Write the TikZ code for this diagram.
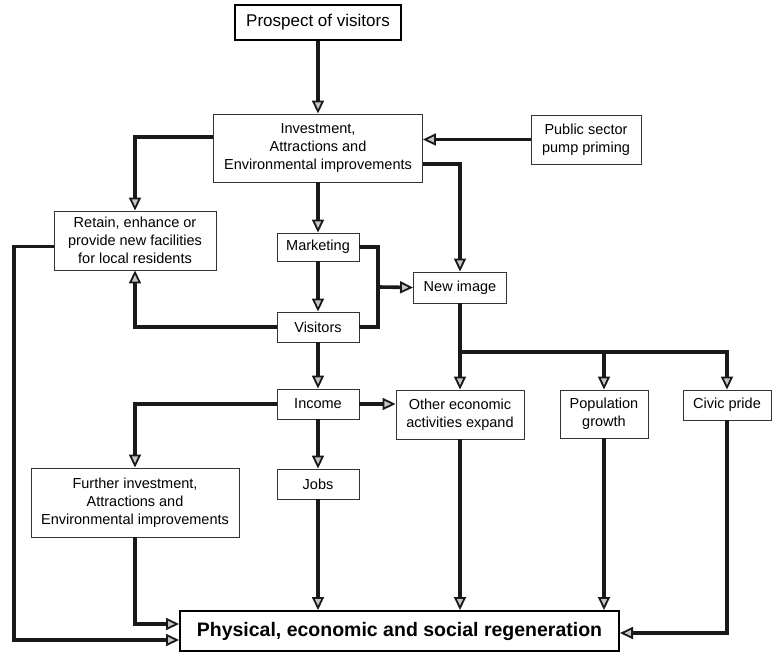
\documentclass[tikz,border=0pt]{standalone}
\usepackage{fontspec}
\setmainfont{Liberation Sans}
\usetikzlibrary{arrows.meta, positioning}

\begin{document}
\begin{tikzpicture}[
      x=1pt, y=-1pt,
      font=\fontsize{14.5}{18}\selectfont,
      >={Triangle[length=13pt, width=12pt, fill=gray!45, line width=1.8pt]},
      box/.style={
        rectangle,
        draw=black!80,
        line width=0.9pt,
        align=center,
        inner sep=0pt
      },
      keybox/.style={box, draw=black, line width=2pt},
      flow/.style={->, line width=3.6pt, black!90}
    ]
    \useasboundingbox (0,0) rectangle (778,652);
    % boxes
    \node[keybox, minimum width=166pt, minimum height=35pt,
      font=\fontsize{17}{20}\selectfont] (prospect) at (318,22.5) {Prospect of visitors};
    \node[box, minimum width=209pt, minimum height=68pt] (invest) at (318,148)
      {Investment,\\Attractions and\\Environmental improvements};
    \node[box, minimum width=110pt, minimum height=49pt] (public) at (586,139.5)
      {Public sector\\pump priming};
    \node[box, minimum width=162pt, minimum height=59pt] (retain) at (135,240.5)
      {Retain, enhance or\\provide new facilities\\for local residents};
    \node[box, minimum width=82pt, minimum height=28pt] (marketing) at (318,247) {Marketing};
    \node[box, minimum width=82pt, minimum height=30pt] (visitors) at (318,327) {Visitors};
    \node[box, minimum width=93pt, minimum height=31pt] (newimage) at (460,287.5) {New image};
    \node[box, minimum width=82pt, minimum height=30pt] (income) at (318,404) {Income};
    \node[box, minimum width=82pt, minimum height=30pt] (jobs) at (318,484) {Jobs};
    \node[box, minimum width=208pt, minimum height=69pt] (further) at (135,502.5)
      {Further investment,\\Attractions and\\Environmental improvements};
    \node[box, minimum width=128pt, minimum height=49pt] (other) at (460,414.5)
      {Other economic\\activities expand};
    \node[box, minimum width=88pt, minimum height=48pt] (population) at (604,414)
      {Population\\growth};
    \node[box, minimum width=88pt, minimum height=30pt] (civic) at (727,405) {Civic pride};
    \node[keybox, minimum width=439pt, minimum height=40pt,
      font=\fontsize{19.5}{22}\bfseries] (regen) at (399.5,631)
      {Physical, economic and social regeneration};
    \coordinate (split) at (378,287);
    \coordinate (fork) at (460,352);
    % connectors
    \draw[flow] (prospect) -- (invest);
    \draw[flow] (public.west) -- (public.west -| invest.east);
    \draw[flow] ([yshift=11pt]invest.west) -| (retain.north);
    \draw[flow] ([yshift=-16pt]invest.east) -| (newimage.north);
    \draw[flow] (invest) -- (marketing);
    \draw[flow] (marketing) -- (visitors);
    \draw[flow, -] (marketing.east) -| (split) |- (visitors.east);
    \draw[flow] (split) -- (newimage.west);
    \draw[flow] (visitors.west) -| (retain.south);
    \draw[flow] (visitors) -- (income);
    \draw[flow] (income.west) -| (further.north);
    \draw[flow] (income.east) -- (income.east -| other.west);
    \draw[flow] (income) -- (jobs);
    \draw[flow, -] (newimage.south) -- (fork);
    \draw[flow] (fork) -- (other.north);
    \draw[flow] (fork) -| (population.north);
    \draw[flow] (fork) -| (civic.north);
    \draw[flow] (jobs.south) -- (jobs.south |- regen.north);
    \draw[flow] (other.south) -- (other.south |- regen.north);
    \draw[flow] (population.south) -- (population.south |- regen.north);
    \draw[flow] (civic.south) |- ([yshift=-2pt]regen.east);
    \draw[flow] (further.south) |- ([yshift=7pt]regen.west);
    \draw[flow] ([yshift=-6pt]retain.west) -| ([xshift=-165pt, yshift=-9pt]regen.west)
      -- ([yshift=-9pt]regen.west);
  \end{tikzpicture}
\end{document}
